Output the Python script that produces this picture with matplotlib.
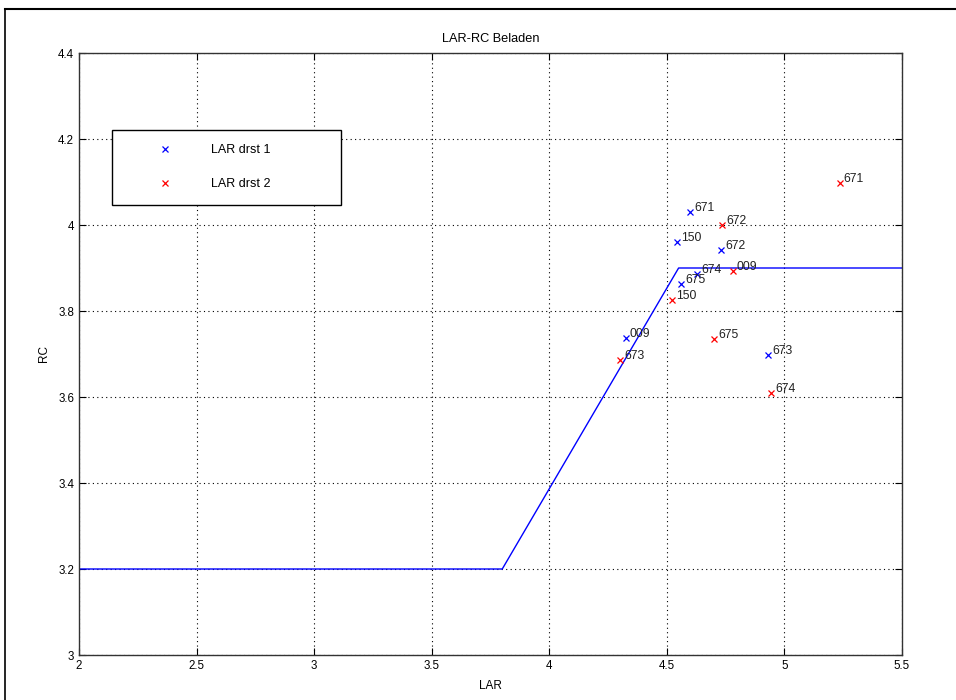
import matplotlib.pyplot as plt
from matplotlib.lines import Line2D

plt.rcParams['font.family'] = ['Liberation Sans', 'DejaVu Sans']

# data
ids_1 = ['671', '150', '672', '674', '675', '009', '673']
lar_1 = [4.60, 4.545, 4.73, 4.63, 4.56, 4.325, 4.93]
rc_1 = [4.03, 3.96, 3.942, 3.885, 3.863, 3.737, 3.698]

ids_2 = ['671', '672', '009', '150', '675', '673', '674']
lar_2 = [5.235, 4.735, 4.78, 4.52, 4.70, 4.30, 4.945]
rc_2 = [4.098, 4.0, 3.893, 3.826, 3.735, 3.685, 3.61]

limit_lar = [2.0, 3.8, 4.55, 5.5]
limit_rc = [3.2, 3.2, 3.9, 3.9]

my_dpi = 100
fig = plt.figure(figsize=(956 / my_dpi, 700 / my_dpi), dpi=my_dpi)
ax = fig.add_axes([79 / 956, 45 / 700, 823 / 956, 602 / 700])

ax.plot(limit_lar, limit_rc, color='blue', lw=1.0, zorder=2)
ax.plot(lar_1, rc_1, 'x', color='blue', ms=5, mew=0.9, label='LAR drst 1', zorder=3)
ax.plot(lar_2, rc_2, 'x', color='red', ms=5, mew=0.9, label='LAR drst 2', zorder=3)

for name, x, y in zip(ids_1, lar_1, rc_1):
    ax.annotate(name, (x, y), xytext=(3, 3), textcoords='offset points',
                ha='left', va='center', fontsize=8.8, color='#222222')
for name, x, y in zip(ids_2, lar_2, rc_2):
    ax.annotate(name, (x, y), xytext=(3, 3), textcoords='offset points',
                ha='left', va='center', fontsize=8.8, color='#222222')

ax.set_xlim(2, 5.5)
ax.set_ylim(3, 4.4)
ax.set_xticks([2, 2.5, 3, 3.5, 4, 4.5, 5, 5.5])
ax.set_xticklabels(['2', '2.5', '3', '3.5', '4', '4.5', '5', '5.5'])
ax.set_yticks([3, 3.2, 3.4, 3.6, 3.8, 4, 4.2, 4.4])
ax.set_yticklabels(['3', '3.2', '3.4', '3.6', '3.8', '4', '4.2', '4.4'])
ax.grid(True, color='black', linestyle=(0, (1, 3)), lw=0.8)
ax.tick_params(direction='in', top=True, right=True, length=5, labelsize=8.3, width=0.8)
for sp in ax.spines.values():
    sp.set_color('#333333')
    sp.set_linewidth(1.0)

ax.set_title('LAR-RC Beladen', fontsize=9.2, pad=8)
ax.set_xlabel('LAR', fontsize=8.5, labelpad=6)
ax.set_ylabel('RC', fontsize=8.5, labelpad=6)

leg = ax.legend(loc='upper left', bbox_to_anchor=(0.040, 0.749, 0.278, 0.123),
                mode='expand', numpoints=1, fontsize=9, frameon=True, fancybox=False,
                edgecolor='black', borderpad=1.15, labelspacing=1.75,
                handlelength=6.25, handletextpad=0.56, borderaxespad=0)
leg.get_frame().set_linewidth(1.0)
leg.get_frame().set_alpha(1)

# outer frame of the exported figure (top and left edges)
fig.add_artist(Line2D([5 / 956, 1], [1 - 9 / 700, 1 - 9 / 700], color='black', lw=1.5,
                      transform=fig.transFigure))
fig.add_artist(Line2D([5 / 956, 5 / 956], [0, 1 - 9 / 700], color='black', lw=1.2,
                      transform=fig.transFigure))

plt.savefig('out.png', dpi=my_dpi)
